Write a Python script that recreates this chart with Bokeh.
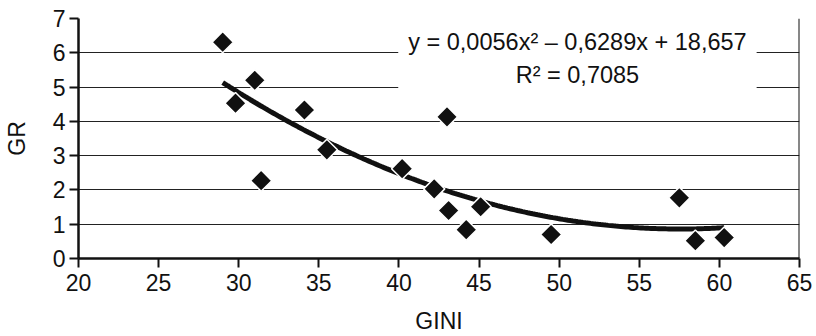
import numpy as np
from bokeh.plotting import figure
from bokeh.models import Range1d, SingleIntervalTicker, Label, Span
from bokeh.embed import file_html
from bokeh.resources import INLINE

gini = [29.0, 29.8, 31.0, 31.4, 34.1, 35.5, 40.2, 42.2, 43.1, 43.0, 44.2, 45.1, 49.5, 57.5, 58.5, 60.3]
gr = [6.31, 4.53, 5.20, 2.27, 4.33, 3.17, 2.62, 2.03, 1.40, 4.13, 0.84, 1.51, 0.70, 1.77, 0.52, 0.61]
eq_text = "y = 0,0056x² – 0,6289x + 18,657\nR² = 0,7085"
x_title = "GINI"
y_title = "GR"

FONT = "Liberation Sans"

p = figure(width=816, height=336, output_backend="svg", toolbar_location=None,
           x_range=Range1d(20, 65), y_range=Range1d(0, 7),
           min_border_left=75, min_border_right=17, min_border_top=18, min_border_bottom=77)
p.outline_line_color = None
p.background_fill_color = "white"

p.xgrid.grid_line_color = None
p.ygrid.grid_line_color = "#222222"
p.ygrid.grid_line_width = 1

for ax, t in ((p.xaxis, 5), (p.yaxis, 1)):
    ax.ticker = SingleIntervalTicker(interval=t)
    ax.axis_line_color = "#111111"
    ax.axis_line_width = 2.5
    ax.major_tick_line_color = "#111111"
    ax.major_tick_line_width = 2
    ax.major_tick_out = 9
    ax.major_tick_in = 0
    ax.minor_tick_line_color = None
    ax.major_label_text_font = FONT
    ax.major_label_text_font_size = "23px"
    ax.major_label_text_color = "#111111"
    ax.axis_label_text_font = FONT
    ax.axis_label_text_font_size = "23px"
    ax.axis_label_text_font_style = "normal"
    ax.axis_label_text_color = "#111111"

p.xaxis.axis_label = x_title
p.yaxis.axis_label = y_title
p.xaxis.major_label_standoff = 6
p.xaxis.axis_label_standoff = 14
p.yaxis.major_label_standoff = 4
p.yaxis.axis_label_standoff = 20

p.add_layout(Span(location=65, dimension="height", line_color="#111111", line_width=2))

# quadratic trendline fitted to the data (as the spreadsheet did)
coef = np.polyfit(gini, gr, 2)
xs = np.linspace(min(gini), max(gini), 200)
ys = np.polyval(coef, xs)
p.line(xs, ys, line_color="#111111", line_width=5)

p.scatter(gini, gr, marker="square", angle=np.pi / 4, size=15,
          fill_color="#111111", line_color="white", line_width=1.5)

lab = Label(x=51.14, y=5.84, text=eq_text, text_align="center", text_baseline="middle",
            text_font=FONT, text_font_size="23.5px", text_color="#111111",
            text_line_height=1.25,
            background_fill_color="white", padding=10)
p.add_layout(lab)

open("out.html", "w").write(file_html(p, INLINE))
